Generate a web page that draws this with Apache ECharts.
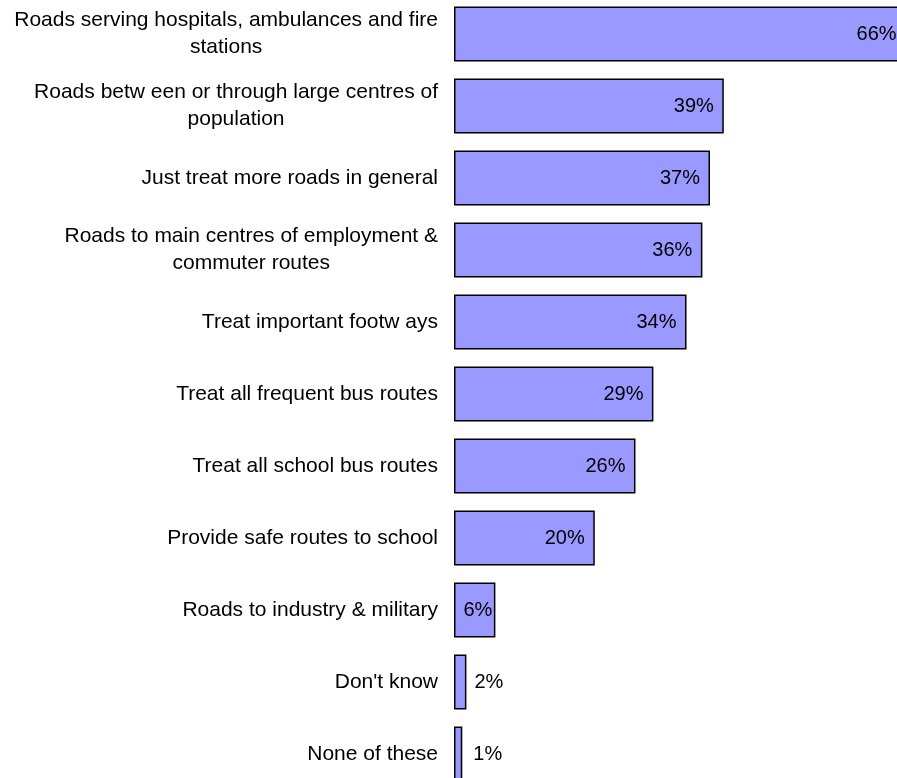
<!DOCTYPE html>
<html>
<head>
<meta charset="utf-8">
<script src="https://cdn.jsdelivr.net/npm/echarts@6/dist/echarts.min.js"></script>
<style>
  html, body { margin: 0; padding: 0; background: #fff; overflow: hidden; }
  /* chart area a bit bigger than the window: the first bar is cut on the right
     and the last one at the bottom, as in the original */
  #chart { position: absolute; left: 0; top: -2.5px; width: 940px; height: 792px; }
</style>
</head>
<body>
<div id="chart"></div>
<script>
// survey answers, top to bottom
const categories = [
    'Roads serving hospitals, ambulances and fire\nstations',
    'Roads betw een or through large centres of\npopulation',
    'Just treat more roads in general',
    'Roads to main centres of employment &\ncommuter routes',
    'Treat important footw ays',
    'Treat all frequent bus routes',
    'Treat all school bus routes',
    'Provide safe routes to school',
    'Roads to industry & military',
    "Don't know",
    'None of these'
];

// bar lengths (labels are rounded)
const values = [65.6, 39.1, 37.1, 36.0, 33.7, 28.9, 26.3, 20.4, 6.0, 1.8, 1.2];

const FONT = '"Liberation Sans", Arial, sans-serif';

// label placement per bar: small bars put the label outside
function labelFor(v) {
    if (v < 3) {
        return {position: 'right', distance: v < 1.5 ? 11 : 8};
    }
    if (v < 10) {
        return {position: 'insideRight', distance: 3};
    }
    return {position: 'insideRight', distance: 10};
}

const seriesData = values.map(v => ({
    value: v,
    label: labelFor(v)
}));

const chart = echarts.init(document.getElementById('chart'));

const option = {
    animation: false,
    grid: {
        left: 454,
        top: 0,
        width: 483,
        height: 792,
        containLabel: false
    },
    xAxis: {
        type: 'value',
        min: 0,
        max: 70,
        show: false
    },
    yAxis: {
        type: 'category',
        inverse: true,
        data: categories,
        axisLine: {show: false},
        axisTick: {show: false},
        splitLine: {show: false},
        axisLabel: {
            margin: 16,
            align: 'right',
            color: '#000',
            fontFamily: FONT,
            fontSize: 21,
            lineHeight: 27,
            formatter: function (value) {
                return value.split('\n').map(l => '{c|' + l + '}').join('\n');
            },
            rich: {
                c: {
                    align: 'center',
                    color: '#000',
                    fontFamily: FONT,
                    fontSize: 21,
                    lineHeight: 27
                }
            }
        }
    },
    series: [
        {
            type: 'bar',
            data: seriesData,
            barWidth: 55,
            clip: false,
            itemStyle: {
                color: '#9999FF',
                borderColor: '#000',
                borderWidth: 1.5
            },
            label: {
                show: true,
                color: '#000',
                fontFamily: FONT,
                fontSize: 20,
                formatter: function (p) {
                    return Math.round(p.value) + '%';
                }
            }
        }
    ]
};

chart.setOption(option);
</script>
</body>
</html>
